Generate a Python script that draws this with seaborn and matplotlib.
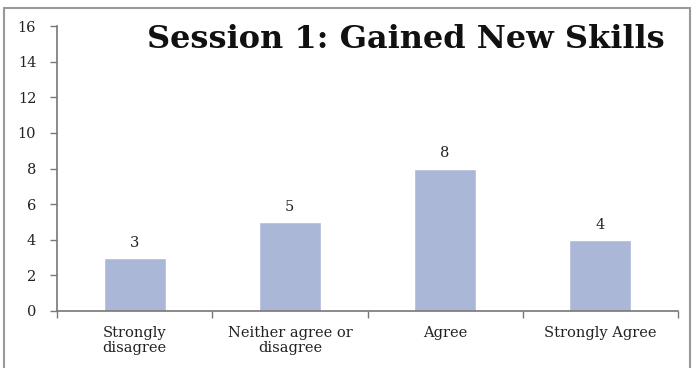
import matplotlib
matplotlib.use("Agg")
import matplotlib.pyplot as plt
from matplotlib.lines import Line2D
import seaborn as sns
import pandas as pd

categories = ["Strongly\ndisagree", "Neither agree or\ndisagree", "Agree", "Strongly Agree"]
counts = [3, 5, 8, 4]
y_ticks = [0, 2, 4, 6, 8, 10, 12, 14, 16]

df = pd.DataFrame({"response": categories, "count": counts})

sns.set_theme(style="white")
plt.rcParams["font.family"] = ["DejaVu Serif"]

fig = plt.figure(figsize=(6.92, 3.68), dpi=100)
ax = fig.add_axes([57 / 692, 1 - 311 / 368, (678 - 57) / 692, (311 - 26) / 368])

sns.barplot(data=df, x="response", y="count", color="#abb7d6", width=0.4,
            saturation=1, ax=ax)

for i, v in enumerate(counts):
    ax.text(i, v + 0.45, str(v), ha="center", va="bottom", fontsize=10.5, color="#222222")

ax.set_xlim(-0.5, 3.5)
ax.set_ylim(0, 16)
ax.set_yticks(y_ticks)
ax.set_yticklabels([str(t) for t in y_ticks], fontsize=10.5, color="#222222")
ax.set_xticks(range(len(categories)))
ax.set_xticklabels(categories, fontsize=10.5, color="#222222", linespacing=1.1)
ax.set_xticks([i - 0.5 for i in range(len(categories) + 1)], minor=True)
ax.tick_params(axis="x", which="major", bottom=False, length=0, pad=11)
ax.tick_params(axis="x", which="minor", bottom=True, length=5, width=1,
               color="#777777", direction="out")
ax.tick_params(axis="y", left=True, length=5, width=1, color="#777777",
               direction="out", pad=10)
ax.set_xlabel("")
ax.set_ylabel("")

for side in ["top", "right"]:
    ax.spines[side].set_visible(False)
for side in ["left", "bottom"]:
    ax.spines[side].set_color("#777777")
    ax.spines[side].set_linewidth(1.2)

fig.text(147 / 692, 1 - 39 / 368, "Session 1: Gained New Skills", fontsize=23,
         fontweight="bold", ha="left", va="center", color="#111111")

# outer frame (left, top, right)
frame_kw = dict(color="#999999", linewidth=1.5, transform=fig.transFigure)
fig.add_artist(Line2D([4 / 692, 4 / 692], [0, 1 - 8 / 368], **frame_kw))
fig.add_artist(Line2D([4 / 692, 690 / 692], [1 - 8 / 368, 1 - 8 / 368], **frame_kw))
fig.add_artist(Line2D([690 / 692, 690 / 692], [0, 1 - 8 / 368], **frame_kw))

fig.savefig("out.png", dpi=100, facecolor="white")
